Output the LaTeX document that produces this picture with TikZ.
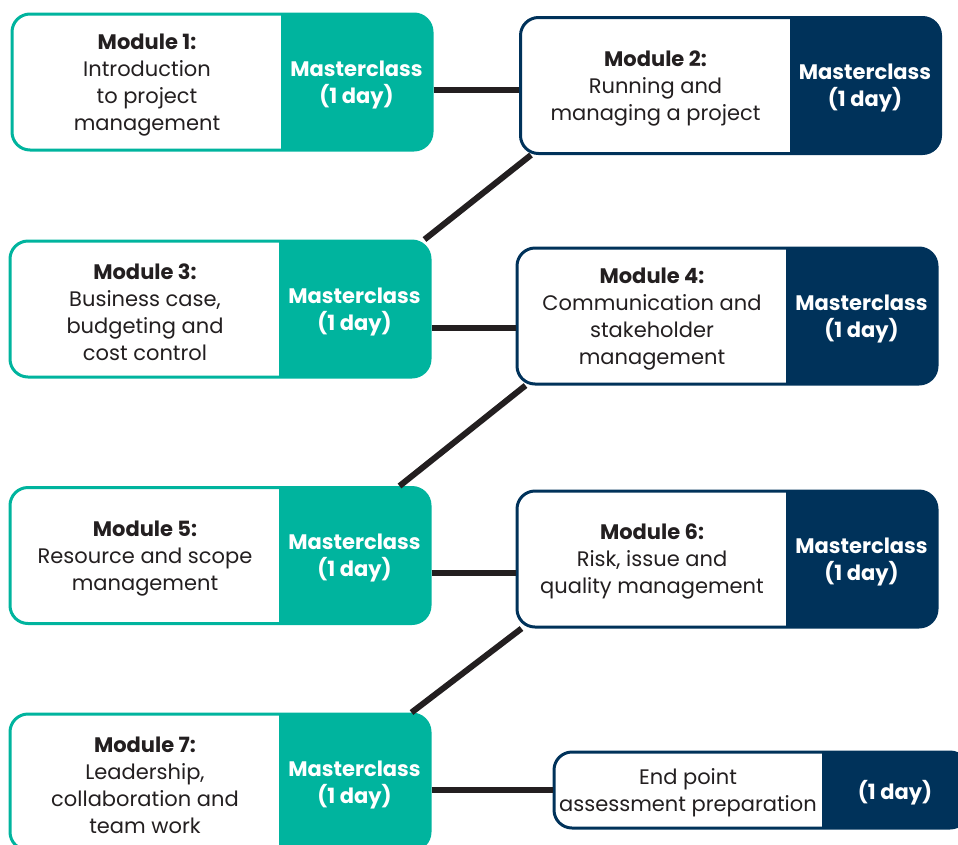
\documentclass[tikz,border=0pt]{standalone}
\usepackage{xcolor}
\usepackage{fontspec}
\setmainfont{Poppins}
\usepackage{tikz}
\usetikzlibrary{positioning}

\definecolor{teal}{HTML}{00B49E}
\definecolor{navy}{HTML}{00325A}
\definecolor{ink}{HTML}{231F20}

\tikzset{
    tabwidth/.store in=\tabw, tabwidth=151pt,
    modbox/.style={draw=#1, fill=white, line width=3pt, rounded corners=18pt,
        minimum width=420pt, minimum height=136pt,
        path picture={\fill[#1, sharp corners] ([xshift=-\tabw]path picture bounding box.north east)
            rectangle (path picture bounding box.south east);}},
    desc/.style={align=center, text=ink, inner sep=0pt, yshift=-3pt, font=\fontsize{21}{27}\selectfont},
    mc/.style={align=center, text=white, inner sep=0pt, yshift=-3pt, font=\bfseries\fontsize{21}{27}\selectfont},
    link/.style={draw=ink, line width=6pt}
}

\begin{document}
\begin{tikzpicture}[x=1pt, y=-1pt]
        \clip (0,0) rectangle (958,844);

        % Left column
        \node[modbox=teal] (m1) at (222,82) {};
        \node[modbox=teal] (m3) at (220,309) {};
        \node[modbox=teal] (m5) at (220,555.5) {};
        \node[modbox=teal] (m7) at (220,782) {};

        % Right column
        \node[modbox=navy] (m2) at (730.5,85.5) {};
        \node[modbox=navy] (m4) at (727,316) {};
        \node[modbox=navy] (m6) at (727,559) {};
        \node[modbox=navy, tabwidth=146pt, minimum width=414pt, minimum height=76pt] (epa) at (761,790) {};

        % Texts
        \node[desc] (m1t) at ([xshift=-75pt]m1.center) {\textbf{Module 1:}\\Introduction\\to project\\management};
        \node[desc] (m2t) at ([xshift=-75pt]m2.center) {\textbf{Module 2:}\\Running and\\managing a project};
        \node[desc] (m3t) at ([xshift=-75pt]m3.center) {\textbf{Module 3:}\\Business case,\\budgeting and\\cost control};
        \node[desc] (m4t) at ([xshift=-75pt]m4.center) {\textbf{Module 4:}\\Communication and\\stakeholder\\management};
        \node[desc] (m5t) at ([xshift=-75pt]m5.center) {\textbf{Module 5:}\\Resource and scope\\management};
        \node[desc] (m6t) at ([xshift=-75pt]m6.center) {\textbf{Module 6:}\\Risk, issue and\\quality management};
        \node[desc] (m7t) at ([xshift=-75pt]m7.center) {\textbf{Module 7:}\\Leadership,\\collaboration and\\team work};
        \node[desc] (epat) at ([xshift=-73pt]epa.center) {End point\\assessment preparation};

        \node[mc] (m1c) at ([xshift=134.5pt]m1.center) {Masterclass\\(1 day)};
        \node[mc] (m2c) at ([xshift=134.5pt]m2.center) {Masterclass\\(1 day)};
        \node[mc] (m3c) at ([xshift=134.5pt]m3.center) {Masterclass\\(1 day)};
        \node[mc] (m4c) at ([xshift=134.5pt]m4.center) {Masterclass\\(1 day)};
        \node[mc] (m5c) at ([xshift=134.5pt]m5.center) {Masterclass\\(1 day)};
        \node[mc] (m6c) at ([xshift=134.5pt]m6.center) {Masterclass\\(1 day)};
        \node[mc] (m7c) at ([xshift=134.5pt]m7.center) {Masterclass\\(1 day)};
        \node[mc] (epac) at ([xshift=134pt]epa.center) {(1 day)};

        % Connectors
        \draw[link] ([yshift=-8pt]m1.east) -- ([yshift=-8pt]m1.east -| m2.west);
        \draw[link] ([xshift=12pt]m2.south west) -- ([xshift=-7pt]m3.north east);
        \draw[link] ([yshift=-19pt]m3.east) -- ([yshift=-19pt]m3.east -| m4.west);
        \draw[link] ([xshift=10pt]m4.south west) -- ([xshift=-32pt]m5.north east);
        \draw[link] ([yshift=-17pt]m5.east) -- ([yshift=-17pt]m5.east -| m6.west);
        \draw[link] ([xshift=6pt]m6.south west) -- ([xshift=-20pt]m7.north east);
        \draw[link] ([yshift=-8pt]m7.east) -- ([yshift=-8pt]m7.east -| epa.west);
    \end{tikzpicture}
\end{document}
